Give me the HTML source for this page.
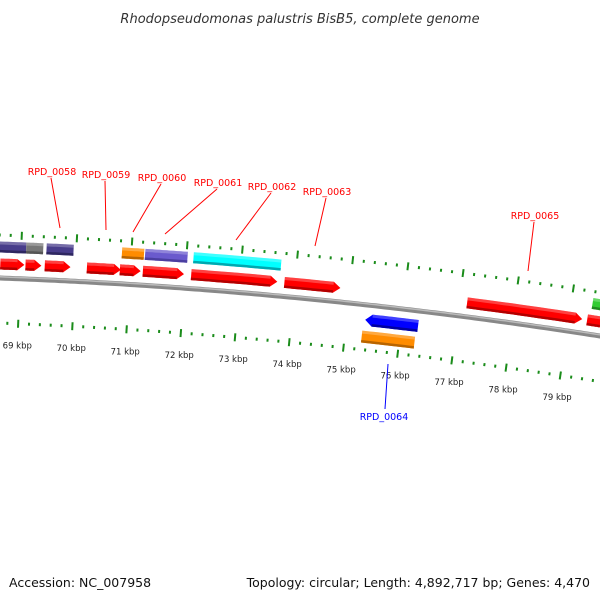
<!DOCTYPE html>
<html><head><meta charset="utf-8">
<style>
html,body{margin:0;padding:0;background:#fff;}
svg{display:block;font-family:"DejaVu Sans","Liberation Sans",sans-serif;}
</style></head>
<body>
<svg id="chart" width="600" height="600" viewBox="0 0 600 600">
<text x="300" y="23" text-anchor="middle" font-size="13" font-style="italic" fill="#333">Rhodopseudomonas palustris BisB5, complete genome</text>
<g id="map"></g>
<text x="9" y="587" font-size="12.5" fill="#111">Accession: NC_007958</text>
<text x="590" y="587" text-anchor="end" font-size="12.5" fill="#111">Topology: circular; Length: 4,892,717 bp; Genes: 4,470</text>
</svg>
<script>
// data (kbp positions)
const tickKbp = [69,70,71,72,73,74,75,76,77,78,79];
const tickLabels = ["69 kbp","70 kbp","71 kbp","72 kbp","73 kbp","74 kbp","75 kbp","76 kbp","77 kbp","78 kbp","79 kbp"];
const fwdStart = [68.63,69.09,69.44,70.21,70.81,71.23,72.11,73.81,77.14,79.33];
const fwdEnd   = [69.07,69.38,69.91,70.83,71.19,71.98,73.68,74.83,79.24,79.7];
const rowBStart = [68.5,69.09,69.46,70.83,71.25,72.13,79.38];
const rowBEnd   = [69.09,69.40,69.95,71.23,72.02,73.72,79.7];
const rowBColor = ["#483d8b","#777777","#483d8b","#ff8c00","#6a5acd","#00ffff","#33cc33"];
const revStart = [75.34,75.31];
const revEnd = [76.31,76.28];
const revColor = ["#0000ff","#ff8c00"];
const fwdNames = ["RPD_0058","RPD_0059","RPD_0060","RPD_0061","RPD_0062","RPD_0063","RPD_0065"];
const revNames = ["RPD_0064"];

const NS="http://www.w3.org/2000/svg";
const g=document.getElementById('map');
function kx(k){return 20+(k-69)*54.7;}
function cy(x){return 278+0.0367*x+0.0001*x*x;}
function ang(x){return Math.atan(0.0367+0.0002*x);}
function pt(x,off){const a=ang(x);return [x+Math.sin(a)*off, cy(x)-Math.cos(a)*off];}
function mk(tag,attrs){const e=document.createElementNS(NS,tag);for(const k in attrs)e.setAttribute(k,attrs[k]);g.appendChild(e);return e;}
function bandPts(x1,x2,o1,o2){const p=[];const n=12;for(let i=0;i<=n;i++){const x=x1+(x2-x1)*i/n;p.push(pt(x,o2));}for(let i=n;i>=0;i--){const x=x1+(x2-x1)*i/n;p.push(pt(x,o1));}return p;}
function poly(p){return p.map(q=>q[0].toFixed(1)+','+q[1].toFixed(1)).join(' ');}
function shade(c){const m={"#ff0000":"#b30000","#483d8b":"#2e2760","#777777":"#555","#ff8c00":"#b86400","#6a5acd":"#4a3ea0","#00ffff":"#00a8b0","#33cc33":"#208c20","#0000ff":"#0000a0"};return m[c]||c;}

let bp=[];for(let x=-5;x<=605;x+=5)bp.push(pt(x,0));
const bb=mk('polyline',{points:poly(bp),fill:'none',stroke:'#888','stroke-width':5});


let bp2=[];for(let x=-5;x<=605;x+=5)bp2.push(pt(x,1.2));
mk('polyline',{points:poly(bp2),fill:'none',stroke:'#bbb','stroke-width':1.5});

for(let k=67.4;k<=80.4;k+=0.2){
  const kk=Math.round(k*10)/10; const major=Math.abs(kk-Math.round(kk))<0.01;
  for(const off of [43,-45]){
    const x=kx(kk); const len=major?8:3;
    const a=pt(x,off+len/2),b=pt(x,off-len/2);
    const t=mk('line',{x1:a[0],y1:a[1],x2:b[0],y2:b[1],stroke:'#1a8c1a','stroke-width':2});
    
    
  }
}
tickKbp.forEach((k,i)=>{const p=pt(kx(k),-67);const t=mk('text',{x:p[0],y:p[1]+3,'text-anchor':'middle','font-size':8.5,fill:'#222'});t.textContent=tickLabels[i];

});

function gene(s,e,o,h,color,dir,name){
  let x1=kx(s),x2=kx(e);
  const lo=o-h/2,hi=o+h/2;let p;
  const head=7;
  if(dir>0){const xb=x2-head;p=bandPts(x1,xb,lo,hi);const tip=pt(x2,o);p.splice(13,0,tip);}
  else if(dir<0){const xb=x1+head;p=bandPts(xb,x2,lo,hi);p.push(pt(x1,o));}
  else p=bandPts(x1,x2,lo,hi);
  const el=mk('polygon',{points:poly(p),fill:color});
  
  
  const xe=dir>0?x2-7:x2, xs=dir<0?x1+7:x1;
  mk('polygon',{points:poly(bandPts(xs,xe,lo,lo+2.5)),fill:shade(color)});
  mk('polygon',{points:poly(bandPts(xs,xe,hi-3,hi)),fill:'rgba(255,255,255,0.25)'});
}
fwdStart.forEach((s,i)=>gene(s,fwdEnd[i],14,11,'#ff0000',1,'forward-cds'));
rowBStart.forEach((s,i)=>gene(s,rowBEnd[i],31,11,rowBColor[i],0,'feature-block'));
gene(revStart[0],revEnd[0],-15,12,revColor[0],-1,'reverse-cds');
gene(revStart[1],revEnd[1],-32,12,revColor[1],0,'reverse-feature');

const labPos=[[52,175],[106,178],[162,181],[218,186],[272,190],[327,195],[535,219]];
const lineEnd=[[60,228],[106,230],[133,232],[165,234],[236,240],[315,246],[528,271]];
fwdNames.forEach((n,i)=>{
  const t=mk('text',{x:labPos[i][0],y:labPos[i][1],'text-anchor':'middle','font-size':9.5,fill:'#ff0000'});t.textContent=n;
  
  
  const l=mk('line',{x1:labPos[i][0]-1,y1:labPos[i][1]+3,x2:lineEnd[i][0],y2:lineEnd[i][1],stroke:'#ff0000','stroke-width':1});
  
  
});
revNames.forEach((n,i)=>{
  const t=mk('text',{x:384,y:420,'text-anchor':'middle','font-size':9.5,fill:'#0000ff'});t.textContent=n;
  
  
  const l=mk('line',{x1:388,y1:364,x2:385,y2:409,stroke:'#0000ff','stroke-width':1});
  
  
});
</script>
</body></html>
